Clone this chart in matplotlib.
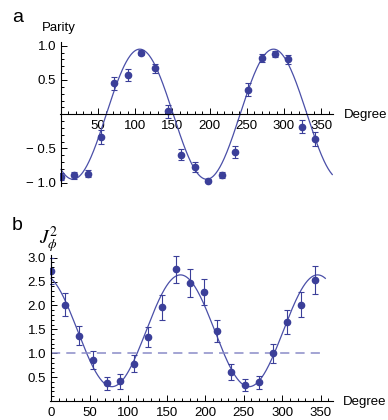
import numpy as np
import matplotlib.pyplot as plt
from matplotlib.ticker import MultipleLocator, FixedLocator

plt.rcParams['font.family'] = ['Liberation Sans', 'DejaVu Sans']

# panel a: parity
deg = [0, 18, 36, 54, 72, 90, 108, 126, 144, 162, 180, 198, 216, 234, 252, 270, 288, 306, 324, 342]
parity = [-0.91, -0.895, -0.87, -0.33, 0.45, 0.57, 0.90, 0.67, 0.04, -0.59,
          -0.77, -0.97, -0.89, -0.55, 0.36, 0.82, 0.88, 0.80, -0.18, -0.36]
parity_err = [0.05, 0.05, 0.05, 0.1, 0.09, 0.09, 0.04, 0.07, 0.1, 0.08,
              0.07, 0.02, 0.04, 0.09, 0.1, 0.06, 0.04, 0.07, 0.1, 0.1]
# fit: -A cos(2pi (x - x0)/T)
fit_a = dict(amp=0.95, x0=16, period=180, offset=0.0, xmax=365)

# panel b: J_phi^2
jphi = [2.72, 2.02, 1.37, 0.85, 0.37, 0.41, 0.78, 1.33, 1.96, 2.76,
        2.47, 2.28, 1.47, 0.61, 0.34, 0.39, 1.00, 1.66, 2.02, 2.53]
jphi_err = [0.28, 0.25, 0.2, 0.19, 0.13, 0.15, 0.18, 0.21, 0.26, 0.28,
            0.29, 0.28, 0.23, 0.16, 0.13, 0.14, 0.2, 0.25, 0.27, 0.3]
fit_b = dict(amp=1.17, x0=168, period=178, offset=1.47, xmax=356)

dot_col = '#3b3f99'
line_col = '#4a4fa8'
dash_col = '#8a8cc8'

W, H = 388, 420
fig = plt.figure(figsize=(W / 100, H / 100), dpi=100)


def px_axes(l, t, r, b):
    return fig.add_axes([l / W, 1 - b / H, (r - l) / W, (b - t) / H])


def style(ax):
    ax.spines['top'].set_visible(False)
    ax.spines['right'].set_visible(False)
    for s in ('left', 'bottom'):
        ax.spines[s].set_linewidth(0.8)
    ax.xaxis.set_minor_locator(MultipleLocator(10))
    ax.tick_params(which='both', direction='in', labelsize=9.5, width=0.7)
    ax.tick_params(which='major', length=4)
    ax.tick_params(which='minor', length=2)


# ---- panel a
ax1 = px_axes(59.5, 42.3, 333, 186.1)
x = np.linspace(0, fit_a['xmax'], 400)
ax1.plot(x, fit_a['offset'] - fit_a['amp'] * np.cos(2 * np.pi * (x - fit_a['x0']) / fit_a['period']),
         color=line_col, lw=0.9)
ax1.errorbar(deg, parity, yerr=parity_err, fmt='o', color=dot_col, ms=4.5,
             elinewidth=0.8, capsize=2, capthick=0.8)
ax1.set_xlim(-2, 366)
ax1.set_ylim(-1.05, 1.05)
style(ax1)
ax1.spines['left'].set_position(('data', 0))
ax1.spines['bottom'].set_position(('data', 0))
ax1.set_xticks([50, 100, 150, 200, 250, 300, 350])
ax1.set_yticks([-1.0, -0.5, 0.5, 1.0])
ax1.set_yticklabels(['\u2212 1.0', '\u2212 0.5', '0.5', '1.0'])
ax1.yaxis.set_minor_locator(MultipleLocator(0.1))
ax1.tick_params(axis='x', pad=4)

# ---- panel b
ax2 = px_axes(49.5, 255.3, 333, 401)
x = np.linspace(0, fit_b['xmax'], 400)
ax2.plot(x, fit_b['offset'] + fit_b['amp'] * np.cos(2 * np.pi * (x - fit_b['x0']) / fit_b['period']),
         color=line_col, lw=0.9)
ax2.plot([0, 350], [1, 1], color=dash_col, lw=1.1, dashes=(6, 4))
ax2.errorbar(deg, jphi, yerr=jphi_err, fmt='o', color=dot_col, ms=4.5,
             elinewidth=0.8, capsize=2, capthick=0.8, clip_on=True)
ax2.set_xlim(-2, 366)
ax2.set_ylim(0, 3.05)
style(ax2)
ax2.spines['left'].set_position(('data', 0))
ax2.spines['left'].set_bounds(0, 3.05)
ax2.set_xticks([0, 50, 100, 150, 200, 250, 300, 350])
ax2.set_yticks([0.5, 1.0, 1.5, 2.0, 2.5, 3.0])
ax2.yaxis.set_minor_locator(MultipleLocator(0.1))
ax2.tick_params(axis='x', pad=4)


def ftext(xp, yp, s, **kw):
    fig.text(xp / W, 1 - yp / H, s, **kw)


ftext(12, 18, 'a', fontsize=14, va='center')
ftext(42, 28, 'Parity', fontsize=9.5, va='center')
ftext(344, 115, 'Degree', fontsize=9.5, va='center')
ftext(12, 225, 'b', fontsize=14, va='center')
ftext(39, 240, r'$J_\phi^2$', fontsize=14, va='center', math_fontfamily='stix')
ftext(343, 402, 'Degree', fontsize=9.5, va='center')

fig.savefig('out.png', dpi=100)
